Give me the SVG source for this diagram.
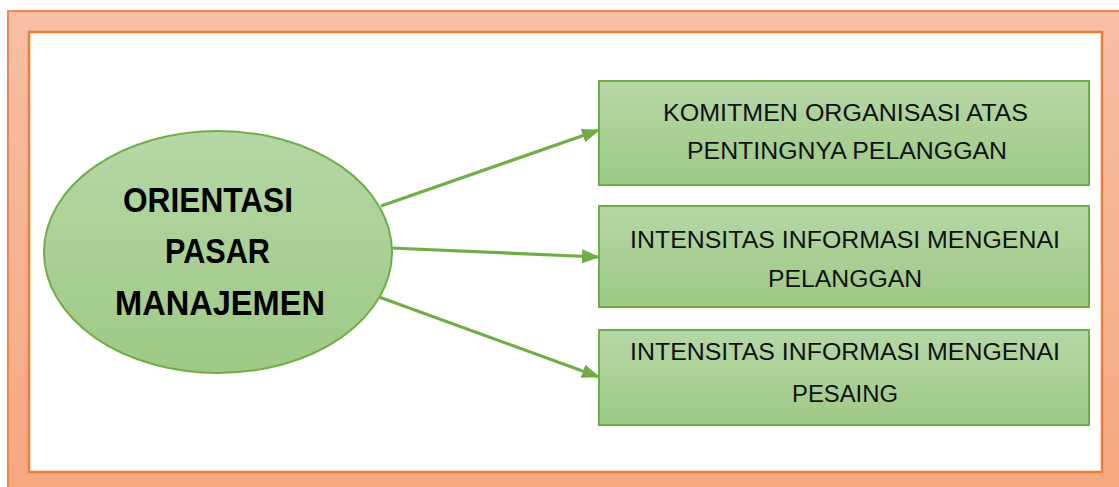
<svg xmlns="http://www.w3.org/2000/svg" width="1119" height="487" viewBox="0 0 1119 487">
  <style>
    .box { stroke: #70ad47; stroke-width: 2; }
    .lbl { font-family: "Liberation Sans", Arial, sans-serif; font-size: 23px; fill: #111; }
    .main { font-family: "Liberation Sans", Arial, sans-serif; font-size: 35px; font-weight: bold; fill: #000; }
    .conn { stroke: #70ad47; stroke-width: 3.2; fill: none; }
  </style>
  <defs>
    <linearGradient id="frameFill" x1="0" y1="0" x2="0" y2="1">
      <stop offset="0" stop-color="#f8bea6"/>
      <stop offset="1" stop-color="#f6a77f"/>
    </linearGradient>
    <linearGradient id="greenFill" x1="0" y1="0" x2="0" y2="1">
      <stop offset="0" stop-color="#b5d7a6"/>
      <stop offset="1" stop-color="#9fc985"/>
    </linearGradient>
    <marker id="arrow" markerUnits="userSpaceOnUse" markerWidth="18" markerHeight="14" refX="17" refY="7" orient="auto">
      <path d="M0,0 L18,7 L0,14 Z" fill="#70ad47"/>
    </marker>
  </defs>

  <!-- outer frame -->
  <g id="frame">
    <rect x="0" y="0" width="1119" height="487" fill="#ffffff"/>
    <rect x="8" y="11" width="1120" height="490" fill="url(#frameFill)" stroke="#ee8a4f" stroke-width="2"/>
    <rect x="29" y="32" width="1073" height="440" fill="#ffffff" stroke="#ed7d31" stroke-width="2.5"/>
  </g>

  <!-- central node -->
  <g id="node-orientasi">
    <ellipse cx="218" cy="252" rx="174" ry="121" fill="url(#greenFill)" class="box"/>
    <text class="main" x="123" y="212" textLength="170" lengthAdjust="spacingAndGlyphs">ORIENTASI</text>
    <text class="main" x="165" y="263" textLength="105" lengthAdjust="spacingAndGlyphs">PASAR</text>
    <text class="main" x="115" y="315" textLength="210" lengthAdjust="spacingAndGlyphs">MANAJEMEN</text>
  </g>

  <!-- target nodes -->
  <g id="node-komitmen">
    <rect x="599" y="81" width="490" height="104" fill="url(#greenFill)" class="box"/>
    <text class="lbl" x="663" y="121" textLength="365" lengthAdjust="spacingAndGlyphs">KOMITMEN ORGANISASI ATAS</text>
    <text class="lbl" x="687" y="159" textLength="320" lengthAdjust="spacingAndGlyphs">PENTINGNYA PELANGGAN</text>
  </g>
  <g id="node-info-pelanggan">
    <rect x="599" y="206" width="490" height="101" fill="url(#greenFill)" class="box"/>
    <text class="lbl" x="630" y="248" textLength="430" lengthAdjust="spacingAndGlyphs">INTENSITAS INFORMASI MENGENAI</text>
    <text class="lbl" x="768" y="287" textLength="154" lengthAdjust="spacingAndGlyphs">PELANGGAN</text>
  </g>
  <g id="node-info-pesaing">
    <rect x="599" y="330" width="490" height="95" fill="url(#greenFill)" class="box"/>
    <text class="lbl" x="630" y="360" textLength="430" lengthAdjust="spacingAndGlyphs">INTENSITAS INFORMASI MENGENAI</text>
    <text class="lbl" x="792" y="402" textLength="106" lengthAdjust="spacingAndGlyphs">PESAING</text>
  </g>

  <!-- connectors -->
  <g id="connectors">
    <line class="conn" x1="381" y1="206" x2="599" y2="130" marker-end="url(#arrow)"/>
    <line class="conn" x1="391" y1="248" x2="599" y2="257" marker-end="url(#arrow)"/>
    <line class="conn" x1="379" y1="297" x2="599" y2="377" marker-end="url(#arrow)"/>
  </g>
</svg>
